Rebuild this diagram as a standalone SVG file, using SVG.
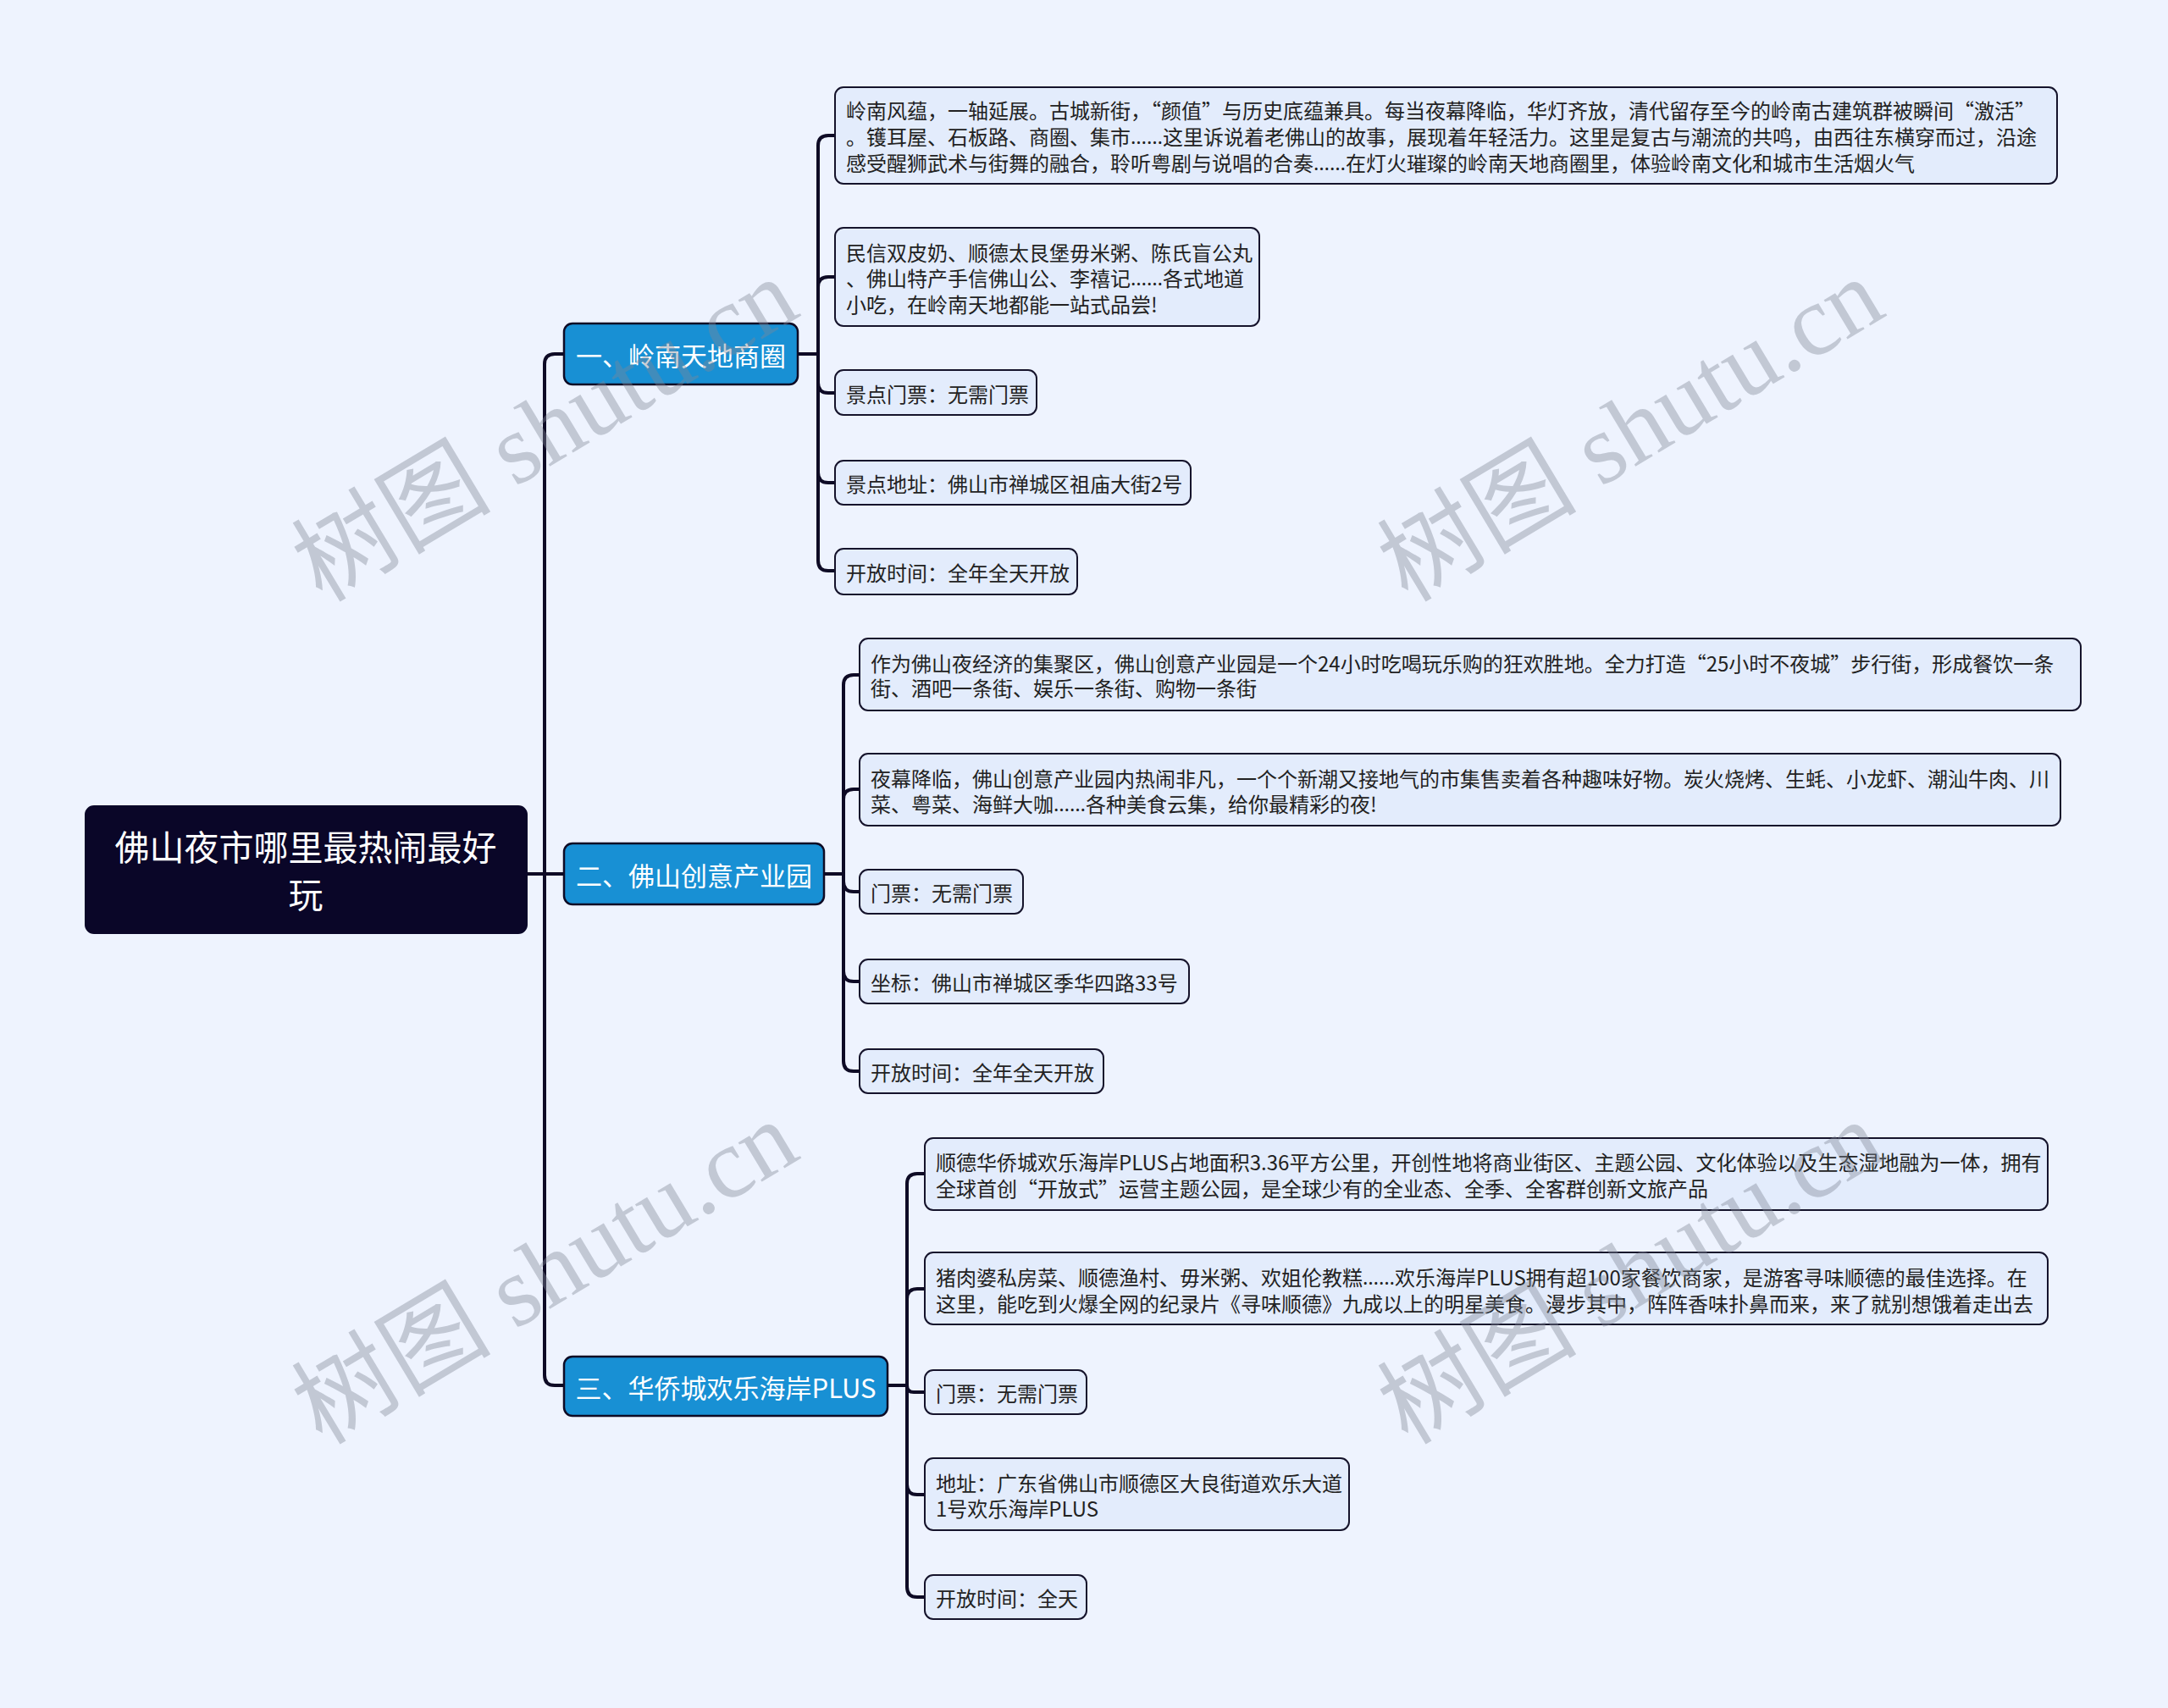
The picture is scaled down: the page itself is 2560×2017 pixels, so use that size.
<svg xmlns="http://www.w3.org/2000/svg" width="2560" height="2017" viewBox="0 0 2560 2017">
<style>
text{font-family:"Noto Sans CJK SC","Noto Sans",sans-serif}
.leaf rect{fill:#E3ECFC;stroke:#15132B;stroke-width:2}
.leaf text{font-size:24px;fill:#222;dominant-baseline:central}
.el{font-family:"Noto Sans",sans-serif}
.branch rect{fill:#1890D4;stroke:#0E0B25;stroke-width:2.5}
.branch text{font-size:31px;fill:#fff;text-anchor:middle;dominant-baseline:central}
.root rect{fill:#0A0628;stroke:#0A0628;stroke-width:2}
.root text{font-size:41px;fill:#fff;text-anchor:middle;dominant-baseline:central}
#connectors path{fill:none;stroke:#0E0B25;stroke-width:4;stroke-linecap:round}
.wm{font-family:"Liberation Serif","Noto Sans CJK SC",serif;font-size:118px;fill:#7F8797;fill-opacity:0.4;text-anchor:middle}
</style>
<rect width="2560" height="2017" fill="#EEF3FE"/>
<g id="connectors">
<path d="M622 1032 H666"/>
<path d="M643 1032 V430 Q643 418 655 418 H666"/>
<path d="M643 1032 V1624 Q643 1636 655 1636 H666"/>
<path d="M942 418 H966"/>
<path d="M966 418 V172 Q966 160 978 160 H986"/>
<path d="M966 418 V339 Q966 327 978 327 H986"/>
<path d="M966 418 V452 Q966 464 978 464 H986"/>
<path d="M966 418 V558 Q966 570 978 570 H986"/>
<path d="M966 418 V662 Q966 674 978 674 H986"/>
<path d="M973 1032 H996"/>
<path d="M996 1032 V809 Q996 797 1008 797 H1015"/>
<path d="M996 1032 V944 Q996 932 1008 932 H1015"/>
<path d="M996 1032 V1041 Q996 1053 1008 1053 H1015"/>
<path d="M996 1032 V1147 Q996 1159 1008 1159 H1015"/>
<path d="M996 1032 V1253 Q996 1265 1008 1265 H1015"/>
<path d="M1048 1636 H1071"/>
<path d="M1071 1636 V1398 Q1071 1386 1083 1386 H1092"/>
<path d="M1071 1636 V1534 Q1071 1522 1083 1522 H1092"/>
<path d="M1071 1636 Q1071 1644 1079 1644 H1092"/>
<path d="M1071 1636 V1753 Q1071 1765 1083 1765 H1092"/>
<path d="M1071 1636 V1874 Q1071 1886 1083 1886 H1092"/>
</g>
<g id="root" class="root">
<rect x="101" y="952" width="521" height="150" rx="10"/>
<text x="361" y="998">佛山夜市哪里最热闹最好</text>
<text x="361" y="1054">玩</text>
</g>
<g id="b1" class="branch"><rect x="666" y="382" width="276" height="72" rx="10"/><text x="804" y="418">一、岭南天地商圈</text></g>
<g id="b2" class="branch"><rect x="666" y="996" width="307" height="72" rx="10"/><text x="819.5" y="1032">二、佛山创意产业园</text></g>
<g id="b3" class="branch"><rect x="666" y="1602" width="382" height="70" rx="10"/><text x="857" y="1637">三、华侨城欢乐海岸PLUS</text></g>

<g id="b1l1" class="leaf"><rect x="986" y="103" width="1443" height="114" rx="10"/>
<text x="999" y="129">岭南风蕴，一轴延展。古城新街，“颜值”与历史底蕴兼具。每当夜幕降临，华灯齐放，清代留存至今的岭南古建筑群被瞬间“激活”</text>
<text x="999" y="160">。镬耳屋、石板路、商圈、集市<tspan class="el">……</tspan>这里诉说着老佛山的故事，展现着年轻活力。这里是复古与潮流的共鸣，由西往东横穿而过，沿途</text>
<text x="999" y="191">感受醒狮武术与街舞的融合，聆听粤剧与说唱的合奏<tspan class="el">……</tspan>在灯火璀璨的岭南天地商圈里，体验岭南文化和城市生活烟火气</text></g>
<g id="b1l2" class="leaf"><rect x="986" y="269" width="501" height="116" rx="10"/>
<text x="999" y="297">民信双皮奶、顺德太艮堡毋米粥、陈氏盲公丸</text>
<text x="999" y="327">、佛山特产手信佛山公、李禧记<tspan class="el">……</tspan>各式地道</text>
<text x="999" y="358">小吃，在岭南天地都能一站式品尝!</text></g>
<g id="b1l3" class="leaf"><rect x="986" y="437" width="238" height="53" rx="10"/><text x="999" y="464">景点门票：无需门票</text></g>
<g id="b1l4" class="leaf"><rect x="986" y="544" width="420" height="52" rx="10"/><text x="999" y="570">景点地址：佛山市禅城区祖庙大街2号</text></g>
<g id="b1l5" class="leaf"><rect x="986" y="648" width="286" height="54" rx="10"/><text x="999" y="675">开放时间：全年全天开放</text></g>

<g id="b2l1" class="leaf"><rect x="1015" y="754" width="1442" height="85" rx="10"/>
<text x="1028" y="782">作为佛山夜经济的集聚区，佛山创意产业园是一个24小时吃喝玩乐购的狂欢胜地。全力打造“25小时不夜城”步行街，形成餐饮一条</text>
<text x="1028" y="811">街、酒吧一条街、娱乐一条街、购物一条街</text></g>
<g id="b2l2" class="leaf"><rect x="1015" y="890" width="1418" height="85" rx="10"/>
<text x="1028" y="918">夜幕降临，佛山创意产业园内热闹非凡，一个个新潮又接地气的市集售卖着各种趣味好物。炭火烧烤、生蚝、小龙虾、潮汕牛肉、川</text>
<text x="1028" y="948">菜、粤菜、海鲜大咖<tspan class="el">……</tspan>各种美食云集，给你最精彩的夜!</text></g>
<g id="b2l3" class="leaf"><rect x="1015" y="1027" width="193" height="52" rx="10"/><text x="1028" y="1053">门票：无需门票</text></g>
<g id="b2l4" class="leaf"><rect x="1015" y="1133" width="389" height="52" rx="10"/><text x="1028" y="1159">坐标：佛山市禅城区季华四路33号</text></g>
<g id="b2l5" class="leaf"><rect x="1015" y="1239" width="288" height="52" rx="10"/><text x="1028" y="1265">开放时间：全年全天开放</text></g>

<g id="b3l1" class="leaf"><rect x="1092" y="1344" width="1326" height="85" rx="10"/>
<text x="1105" y="1371">顺德华侨城欢乐海岸PLUS占地面积3.36平方公里，开创性地将商业街区、主题公园、文化体验以及生态湿地融为一体，拥有</text>
<text x="1105" y="1402">全球首创“开放式”运营主题公园，是全球少有的全业态、全季、全客群创新文旅产品</text></g>
<g id="b3l2" class="leaf"><rect x="1092" y="1479" width="1326" height="85" rx="10"/>
<text x="1105" y="1507">猪肉婆私房菜、顺德渔村、毋米粥、欢姐伦教糕<tspan class="el">……</tspan>欢乐海岸PLUS拥有超100家餐饮商家，是游客寻味顺德的最佳选择。在</text>
<text x="1105" y="1538">这里，能吃到火爆全网的纪录片《寻味顺德》九成以上的明星美食。漫步其中，阵阵香味扑鼻而来，来了就别想饿着走出去</text></g>
<g id="b3l3" class="leaf"><rect x="1092" y="1618" width="191" height="52" rx="10"/><text x="1105" y="1644">门票：无需门票</text></g>
<g id="b3l4" class="leaf"><rect x="1092" y="1722" width="501" height="85" rx="10"/>
<text x="1105" y="1750">地址：广东省佛山市顺德区大良街道欢乐大道</text>
<text x="1105" y="1780">1号欢乐海岸PLUS</text></g>
<g id="b3l5" class="leaf"><rect x="1092" y="1860" width="191" height="52" rx="10"/><text x="1105" y="1886">开放时间：全天</text></g>

<g id="watermarks">
<text class="wm" transform="translate(664,542) rotate(-31)">树图 shutu.cn</text>
<text class="wm" transform="translate(1946,542) rotate(-31)">树图 shutu.cn</text>
<text class="wm" transform="translate(664,1537) rotate(-31)">树图 shutu.cn</text>
<text class="wm" transform="translate(1946,1537) rotate(-31)">树图 shutu.cn</text>
</g>
</svg>
